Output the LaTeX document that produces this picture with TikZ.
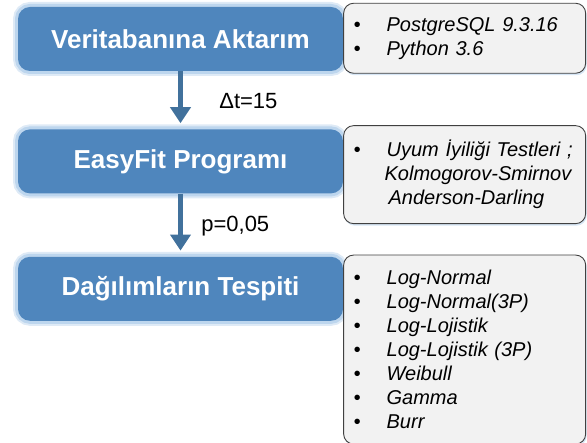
\documentclass[tikz,border=0pt]{standalone}
\usepackage{fontspec}
\setmainfont{Liberation Sans}
\usetikzlibrary{arrows.meta,positioning,shadows}

\definecolor{kutumavi}{RGB}{79,134,189}
\definecolor{halomavi}{RGB}{189,214,238}
\definecolor{okmavi}{RGB}{65,113,156}
\definecolor{notgri}{RGB}{242,242,242}
\definecolor{notcizgi}{RGB}{64,64,64}

% bullet with a fixed gap before the item text
\newcommand{\madde}{\makebox[33pt][l]{\textbullet}}

\begin{document}
\begin{tikzpicture}[x=1pt, y=1pt,
    kutu/.style={fill=kutumavi, rounded corners=12pt, minimum width=325pt,
        minimum height=64pt, text=white, font=\fontsize{26}{30}\selectfont\bfseries,
        preaction={draw=halomavi!50, line width=10pt},
        preaction={draw=halomavi, line width=6pt}},
    notkutu/.style={draw=notcizgi, fill=notgri, line width=0.9pt, rounded corners=10pt,
        minimum width=242pt, text width=222pt, inner xsep=10pt, align=left,
        font=\fontsize{20}{24}\selectfont\itshape,
        drop shadow={shadow xshift=1pt, shadow yshift=-2pt, fill=halomavi, opacity=.6}},
    ok/.style={-{Triangle[width=20pt,length=16pt]}, draw=okmavi, line width=5pt, shorten >=6pt},
    etiket/.style={font=\fontsize{22}{26}\selectfont, anchor=west}]
    \useasboundingbox (0,0) rectangle (587,-443);

    % main steps
    \node (veri) [kutu] at (180.5,-39) {Veritabanına Aktarım};
    \node (easyfit) [kutu, below=58pt of veri] {EasyFit Programı};
    \node (tespit) [kutu, below=63pt of easyfit] {Dağılımların Tespiti};

    % notes on the right
    \node (veriNot) [notkutu, minimum height=70pt, below right=-4pt and 0pt of veri.north east]
        {\madde PostgreSQL 9.3.16\\
         \madde Python 3.6};
    \node (easyfitNot) [notkutu, minimum height=98pt, below right=-4pt and 0pt of easyfit.north east]
        {\madde Uyum İyiliği Testleri ;\\
         \hspace*{31pt}Kolmogorov-Smirnov\\
         \hspace*{35pt}Anderson-Darling};
    \node (tespitNot) [notkutu, minimum height=189pt, below right=-2pt and 0pt of tespit.north east]
        {\madde Log-Normal\\
         \madde Log-Normal(3P)\\
         \madde Log-Lojistik\\
         \madde Log-Lojistik (3P)\\
         \madde Weibull\\
         \madde Gamma\\
         \madde Burr};

    % arrows between steps
    \draw [ok] (veri) to node [etiket, pos=0.52, xshift=33pt] {Δt=15} (easyfit);
    \draw [ok] (easyfit) to node [etiket, pos=0.52, xshift=15pt] {p=0,05} (tespit);
\end{tikzpicture}
\end{document}
